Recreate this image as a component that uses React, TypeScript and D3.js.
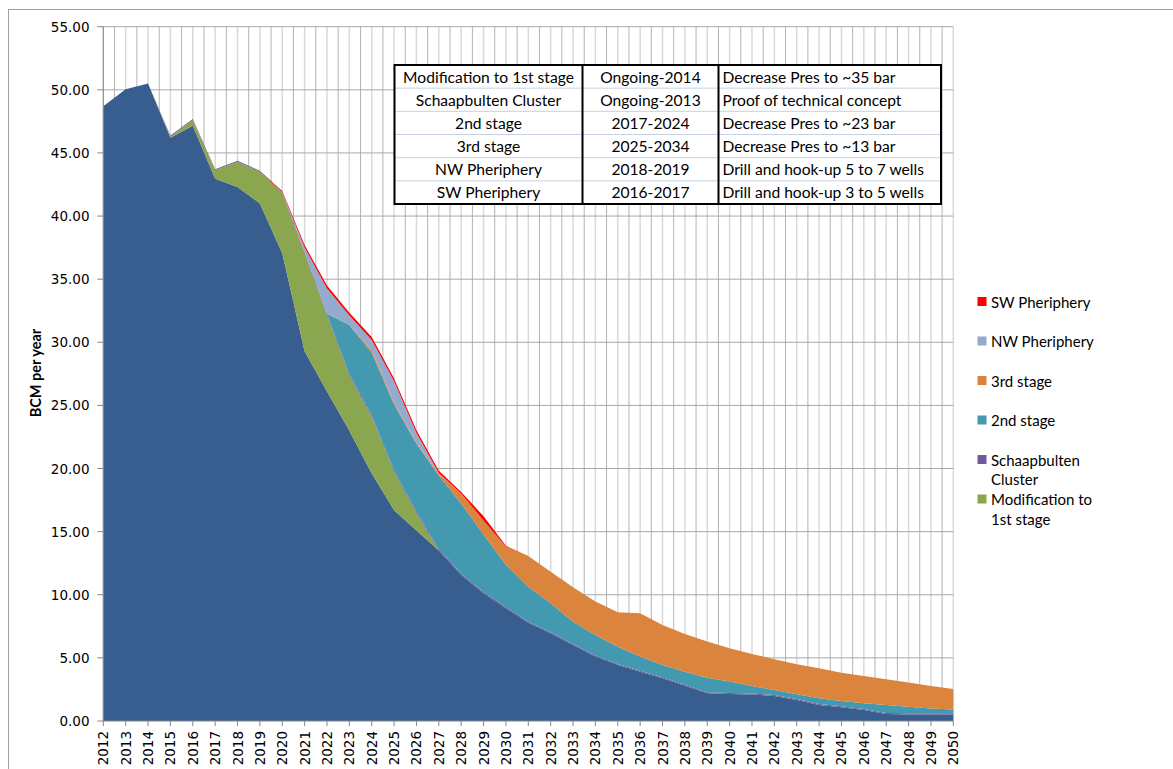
import React from 'react';
import * as d3 from 'd3';

// ---- Data ----
const years = [
  2012, 2013, 2014, 2015, 2016, 2017, 2018, 2019, 2020, 2021,
  2022, 2023, 2024, 2025, 2026, 2027, 2028, 2029, 2030, 2031,
  2032, 2033, 2034, 2035, 2036, 2037, 2038, 2039, 2040, 2041,
  2042, 2043, 2044, 2045, 2046, 2047, 2048, 2049, 2050,
];

const baseProduction = [
  48.7, 50.05, 50.5, 46.2, 47.15, 42.95, 42.3, 41.0, 37.06, 29.3,
  26.1, 23.0, 19.6, 16.7, 15.1, 13.5, 11.57, 10.12, 8.93, 7.79,
  6.95, 6.02, 5.1, 4.44, 3.91, 3.38, 2.8, 2.19, 2.14, 2.09,
  1.98, 1.66, 1.27, 1.08, 0.87, 0.55, 0.52, 0.52, 0.52,
];

const modification1st = [
  0, 0, 0, 0.1, 0.45, 0.68, 2.0, 2.5, 4.76, 7.75,
  6.05, 4.35, 4.5, 3.05, 1.35, 0, 0, 0, 0, 0,
  0, 0, 0, 0, 0, 0, 0, 0, 0, 0,
  0, 0, 0, 0, 0, 0, 0, 0, 0,
];

const schaapbulten = [
  0, 0, 0, 0.08, 0.08, 0.08, 0.08, 0.08, 0.08, 0.1,
  0.12, 0.12, 0.12, 0.12, 0.12, 0.12, 0.1, 0.1, 0.1, 0.08,
  0.08, 0.08, 0.08, 0.08, 0.08, 0.08, 0.08, 0.08, 0.08, 0.08,
  0.08, 0.08, 0.08, 0.08, 0.08, 0.08, 0.1, 0.1, 0.1,
];

const stage2 = [
  0, 0, 0, 0, 0, 0, 0, 0, 0, 0,
  0, 3.9, 4.95, 5.2, 5.4, 5.8, 5.55, 4.55, 3.35, 2.77,
  2.29, 1.77, 1.63, 1.37, 1.11, 0.98, 1.03, 1.16, 0.9, 0.6,
  0.4, 0.37, 0.45, 0.42, 0.45, 0.64, 0.51, 0.38, 0.3,
];

const stage3 = [
  0, 0, 0, 0, 0, 0, 0, 0, 0, 0,
  0, 0, 0.2, 0.1, 0.1, 0.15, 0.8, 1.1, 1.45, 2.43,
  2.51, 2.72, 2.65, 2.72, 3.43, 3.17, 2.98, 2.86, 2.64, 2.54,
  2.43, 2.38, 2.37, 2.25, 2.17, 2.03, 1.91, 1.77, 1.62,
];

const nwPeriphery = [
  0, 0, 0, 0, 0, 0, 0, 0, 0, 0.35,
  2.0, 0.75, 0.82, 1.75, 0.75, 0.05, 0, 0, 0, 0,
  0, 0, 0, 0, 0, 0, 0, 0, 0, 0,
  0, 0, 0, 0, 0, 0, 0, 0, 0,
];

const swPeriphery = [
  0, 0, 0, 0, 0, 0, 0, 0, 0.08, 0.2,
  0.22, 0.22, 0.22, 0.22, 0.22, 0.2, 0.12, 0.35, 0.05, 0,
  0, 0, 0, 0, 0, 0, 0, 0, 0, 0,
  0, 0, 0, 0, 0, 0, 0, 0, 0,
];

const yTicks = [0, 5, 10, 15, 20, 25, 30, 35, 40, 45, 50, 55];

const seriesKeys = ['base', 'mod1', 'schaap', 'stage2', 'stage3', 'nw', 'sw'];
const seriesColors: Record<string, string> = {
  base: '#375E8E',
  mod1: '#8AA64F',
  schaap: '#71589F',
  stage2: '#4399B0',
  stage3: '#DB843D',
  nw: '#94AACF',
  sw: '#FF0000',
};

const legendItems = [
  { key: 'sw', lines: ['SW Pheriphery'] },
  { key: 'nw', lines: ['NW Pheriphery'] },
  { key: 'stage3', lines: ['3rd stage'] },
  { key: 'stage2', lines: ['2nd stage'] },
  { key: 'schaap', lines: ['Schaapbulten', 'Cluster'] },
  { key: 'mod1', lines: ['Modification to', '1st stage'] },
];

const tableProject = ['Modification to 1st stage', 'Schaapbulten Cluster', '2nd stage', '3rd stage', 'NW Pheriphery', 'SW Pheriphery'];
const tablePeriod = ['Ongoing-2014', 'Ongoing-2013', '2017-2024', '2025-2034', '2018-2019', '2016-2017'];
const tableNote = [
  'Decrease Pres to ~35 bar',
  'Proof of technical concept',
  'Decrease Pres to ~23 bar',
  'Decrease Pres to ~13 bar',
  'Drill and hook-up 5 to 7 wells',
  'Drill and hook-up 3 to 5 wells',
];

// ---- Layout ----
const W = 1173;
const H = 769;
const plotLeft = 103.3;
const plotRight = 953.3;
const plotTop = 26.7;
const plotBottom = 721;

export default function App() {
  const x = d3.scaleLinear().domain([2012, 2050]).range([plotLeft, plotRight]);
  const y = d3.scaleLinear().domain([0, 55]).range([plotBottom, plotTop]);

  const rows = years.map((yr, i) => ({
    year: yr,
    base: baseProduction[i],
    mod1: modification1st[i],
    schaap: schaapbulten[i],
    stage2: stage2[i],
    stage3: stage3[i],
    nw: nwPeriphery[i],
    sw: swPeriphery[i],
  }));

  const stacked = d3.stack<any>().keys(seriesKeys)(rows);
  const area = d3
    .area<any>()
    .x((d) => x(d.data.year))
    .y0((d) => y(d[0]))
    .y1((d) => y(d[1]));

  const halfYears = years.slice(0, -1).map((yr) => yr + 0.5);

  // table geometry
  const tL = 394.5, tR = 941, tT = 65, tB = 204;
  const c1 = 582.5, c2 = 718.5;
  const rowH = (tB - tT) / tableProject.length;

  const legendX = 977.5;
  const legendTop = 301.5;
  const legendStep = 39.5;

  return (
    <svg
      width={W}
      height={H}
      style={{ position: 'absolute', left: 0, top: 0, background: '#fff' }}
    >
      {/* chart border */}
      <rect x={8.5} y={9.5} width={1180} height={800} fill="#fff" stroke="#A0A0A0" strokeWidth={1} />

      {/* vertical gridlines */}
      {years.map((yr) => (
        <line key={'vy' + yr} x1={x(yr)} x2={x(yr)} y1={plotTop} y2={plotBottom} stroke="#D9D9D9" strokeWidth={1.5} />
      ))}
      {halfYears.map((yr) => (
        <line key={'vh' + yr} x1={x(yr)} x2={x(yr)} y1={plotTop} y2={plotBottom} stroke="#B3B3B3" strokeWidth={1} />
      ))}
      {/* horizontal gridlines */}
      {yTicks.slice(1).map((t) => (
        <line key={'h' + t} x1={plotLeft} x2={plotRight} y1={y(t)} y2={y(t)} stroke="#A8A8A8" strokeWidth={1} />
      ))}

      {/* stacked areas */}
      {stacked.map((s) => (
        <path key={s.key} d={area(s) || ''} fill={seriesColors[s.key]} stroke="none" />
      ))}

      {/* axes */}
      <line x1={plotLeft} x2={plotLeft} y1={plotTop} y2={plotBottom} stroke="#868686" strokeWidth={1} />
      <line x1={plotLeft} x2={plotRight} y1={plotBottom} y2={plotBottom} stroke="#868686" strokeWidth={1} />
      {yTicks.map((t) => (
        <g key={'yt' + t}>
          <line x1={plotLeft - 6} x2={plotLeft} y1={y(t)} y2={y(t)} stroke="#868686" />
          <text
            x={89.5}
            y={y(t)}
            textAnchor="end"
            dominantBaseline="central"
            fontFamily="DejaVu Sans"
            fontSize={13.5}
            fill="#000"
          >
            {t.toFixed(2)}
          </text>
        </g>
      ))}
      {years.map((yr) => (
        <g key={'xt' + yr}>
          <line x1={x(yr)} x2={x(yr)} y1={plotBottom} y2={plotBottom + 5} stroke="#868686" />
          <text
            transform={`translate(${x(yr)},${plotBottom + 10}) rotate(-90)`}
            textAnchor="end"
            dominantBaseline="central"
            fontFamily="DejaVu Sans"
            fontSize={13.5}
            fill="#000"
          >
            {yr}
          </text>
        </g>
      ))}

      {/* y-axis title */}
      <text
        transform={`translate(35,373) rotate(-90)`}
        textAnchor="middle"
        dominantBaseline="central"
        fontFamily="Lato"
        fontWeight="bold"
        fontSize={14.5}
        fill="#000"
      >
        BCM per year
      </text>

      {/* info table */}
      <rect x={tL} y={tT} width={tR - tL} height={tB - tT} fill="#fff" />
      {tableProject.slice(1).map((_, i) => (
        <line key={'tr' + i} x1={tL} x2={tR} y1={tT + rowH * (i + 1)} y2={tT + rowH * (i + 1)} stroke="#C6D2E4" strokeWidth={1} />
      ))}
      <line x1={c1} x2={c1} y1={tT} y2={tB} stroke="#000" strokeWidth={2} />
      <line x1={c2} x2={c2} y1={tT} y2={tB} stroke="#000" strokeWidth={2} />
      <rect x={tL} y={tT} width={tR - tL} height={tB - tT} fill="none" stroke="#000" strokeWidth={2} />
      {tableProject.map((p, i) => {
        const cy = tT + rowH * (i + 0.5);
        return (
          <g key={'row' + i} fontFamily="Lato" fontSize={15.6} fill="#000">
            <text x={(tL + c1) / 2} y={cy} textAnchor="middle" dominantBaseline="central">{p}</text>
            <text x={(c1 + c2) / 2} y={cy} textAnchor="middle" dominantBaseline="central">{tablePeriod[i]}</text>
            <text x={c2 + 4} y={cy} textAnchor="start" dominantBaseline="central">{tableNote[i]}</text>
          </g>
        );
      })}

      {/* legend */}
      {legendItems.map((item, i) => {
        const cy = legendTop + i * legendStep;
        return (
          <g key={'lg' + item.key}>
            <rect x={legendX} y={cy - 4.5} width={9} height={9} fill={seriesColors[item.key]} />
            {item.lines.map((ln, j) => (
              <text
                key={j}
                x={legendX + 13.5}
                y={cy + j * 19.5}
                dominantBaseline="central"
                fontFamily="Lato"
                fontSize={15}
                fill="#000"
              >
                {ln}
              </text>
            ))}
          </g>
        );
      })}
    </svg>
  );
}
